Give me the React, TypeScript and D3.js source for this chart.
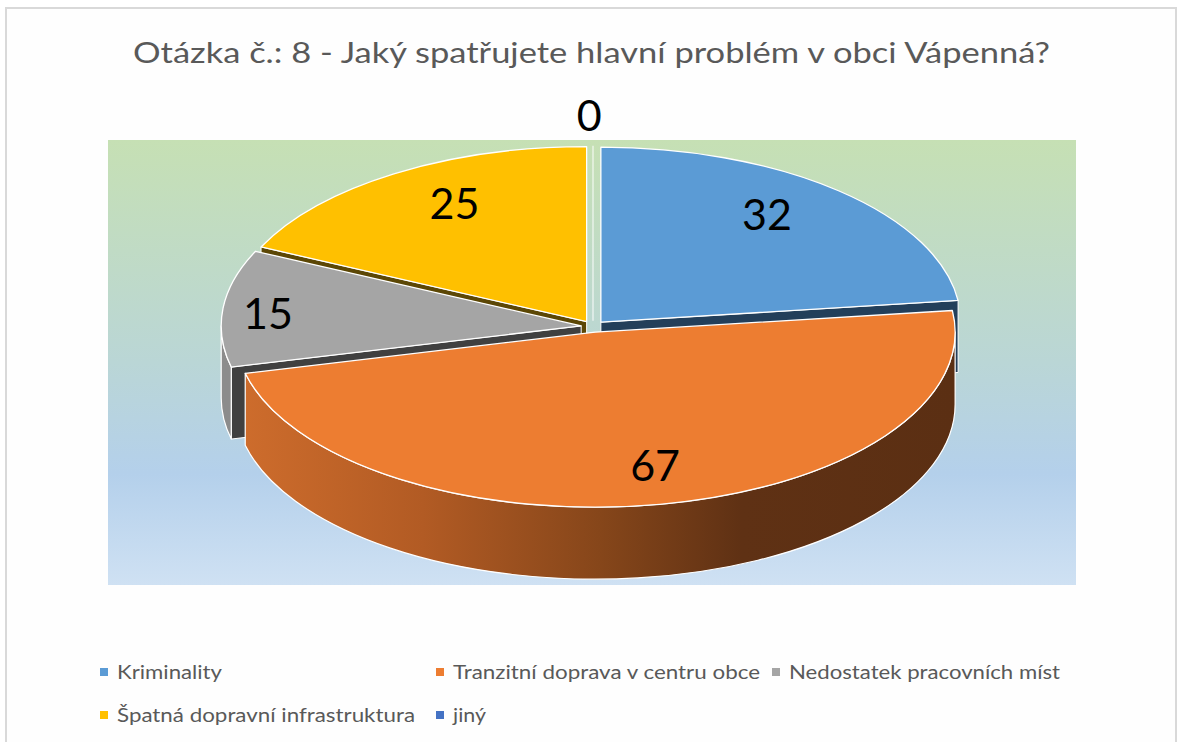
import React from 'react';
import * as d3 from 'd3';

// ---- data ----
const categories = [
  'Kriminality',
  'Tranzitní doprava v centru obce',
  'Nedostatek pracovních míst',
  'Špatná dopravní infrastruktura',
  'jiný',
];
const values = [32, 67, 15, 25, 0];
const title = 'Otázka č.: 8 - Jaký spatřujete hlavní problém v obci Vápenná?';

// ---- styles ----
const topColors = ['#5B9BD5', '#ED7D31', '#A5A5A5', '#FFC000', '#4472C4'];
const faceColors = ['#233f5a', '#6a3412', '#404040', '#5c4705', '#22386a'];
const wallColors = ['#3e6c96', 'url(#orangeWall)', '#8c8c8c', '#b38800', '#2f4f8a'];
// label placement tweaks (degrees, radial factor)
const labelAngleAdj = [-4.6, -2, -1, 3.9, -0.5];
const labelRadius = [0.77, 0.778, 0.873, 0.77, 1.175];

const W = 1178;
const H = 742;
const CX = 593;
const CY = 326.5;
const RX = 360;
const RY = 175;
const DEPTH = 72;
const EXPLODE = 0.033;

const PLOT = { x: 108, y: 140, w: 968, h: 445 };

type P = [number, number];
function pt(ox: number, oy: number, a: number, r = 1, dz = 0): P {
  return [ox + RX * r * Math.sin(a), oy - RY * r * Math.cos(a) + dz];
}
function topPath(ox: number, oy: number, a0: number, a1: number) {
  const p0 = pt(ox, oy, a0);
  const p1 = pt(ox, oy, a1);
  const large = a1 - a0 > Math.PI ? 1 : 0;
  return `M${ox},${oy}L${p0[0]},${p0[1]}A${RX},${RY} 0 ${large} 1 ${p1[0]},${p1[1]}Z`;
}
function wallPath(ox: number, oy: number, a0: number, a1: number) {
  const s = Math.max(a0, Math.PI / 2);
  const e = Math.min(a1, (3 * Math.PI) / 2);
  if (e <= s + 1e-6) return null;
  const p0 = pt(ox, oy, s);
  const p1 = pt(ox, oy, e);
  const q1 = pt(ox, oy, e, 1, DEPTH);
  const q0 = pt(ox, oy, s, 1, DEPTH);
  const large = e - s > Math.PI ? 1 : 0;
  return `M${p0[0]},${p0[1]}A${RX},${RY} 0 ${large} 1 ${p1[0]},${p1[1]}L${q1[0]},${q1[1]}A${RX},${RY} 0 ${large} 0 ${q0[0]},${q0[1]}Z`;
}
function facePath(ox: number, oy: number, a: number) {
  const p = pt(ox, oy, a);
  const q = pt(ox, oy, a, 1, DEPTH);
  return `M${ox},${oy}L${p[0]},${p[1]}L${q[0]},${q[1]}L${ox},${oy + DEPTH}Z`;
}

const legendCols = [100, 436, 772];
const legendRows = [672, 715];
const legendLayout = [
  [0, 0],
  [1, 0],
  [2, 0],
  [0, 1],
  [1, 1],
];
const legendTextWidths = [105, 307, 271, 298, 33];

export default function App() {
  const pie = d3
    .pie<number>()
    .sort(null)
    .value((d) => d);
  const arcs = pie(values).map((a, i) => {
    const mid = (a.startAngle + a.endAngle) / 2;
    const ox = CX + EXPLODE * RX * Math.sin(mid);
    const oy = CY - EXPLODE * RY * Math.cos(mid);
    return { ...a, i, mid, ox, oy };
  });
  const order = [...arcs].sort((a, b) => a.oy - b.oy);

  return (
    <div style={{ position: 'fixed', left: 0, top: 0, width: W, height: H, background: '#fff' }}>
      <svg width={W} height={H} style={{ display: 'block' }}>
        <defs>
          <linearGradient id="plotBg" x1="0" y1="0" x2="0" y2="1">
            <stop offset="0" stopColor="#c6e0b4" />
            <stop offset="0.5" stopColor="#bad6d6" />
            <stop offset="0.75" stopColor="#b4d0eb" />
            <stop offset="1" stopColor="#cfe1f3" />
          </linearGradient>
          <linearGradient id="orangeWall" gradientUnits="userSpaceOnUse" x1={245} y1={0} x2={955} y2={0}>
            <stop offset="0" stopColor="#cd6c2c" />
            <stop offset="0.25" stopColor="#b25b24" />
            <stop offset="0.5" stopColor="#86461a" />
            <stop offset="0.7" stopColor="#5f3114" />
            <stop offset="1" stopColor="#5b2f13" />
          </linearGradient>
        </defs>
        <rect x={6} y={8} width={1170} height={745} fill="#fefefe" stroke="#d9d9d9" strokeWidth={2} />
        <text
          x={591.5}
          y={63}
          textAnchor="middle"
          fontFamily="Lato, 'Open Sans', sans-serif"
          fontSize={28}
          fill="#595959"
          textLength={917}
          lengthAdjust="spacingAndGlyphs"
        >
          {title}
        </text>
        <rect x={PLOT.x} y={PLOT.y} width={PLOT.w} height={PLOT.h} fill="url(#plotBg)" />
        {order.map((a) => {
          const els: React.ReactNode[] = [];
          const i = a.i;
          if (a.endAngle - a.startAngle < 1e-6) {
            const p = pt(a.ox, a.oy, a.startAngle);
            els.push(
              <line key={`z${i}`} x1={a.ox} y1={a.oy} x2={p[0]} y2={p[1]} stroke="#ffffff" strokeWidth={1.2} opacity={0.8} />
            );
            return <g key={i}>{els}</g>;
          }
          if (Math.sin(a.startAngle) < -1e-6) {
            els.push(
              <path key={`fs${i}`} d={facePath(a.ox, a.oy, a.startAngle)} fill={faceColors[i]} stroke="#ffffff" strokeWidth={1} strokeLinejoin="round" />
            );
          }
          if (Math.sin(a.endAngle) > 1e-6) {
            els.push(
              <path key={`fe${i}`} d={facePath(a.ox, a.oy, a.endAngle)} fill={faceColors[i]} stroke="#ffffff" strokeWidth={1} strokeLinejoin="round" />
            );
          }
          const w = wallPath(a.ox, a.oy, a.startAngle, a.endAngle);
          if (w) {
            els.push(<path key={`w${i}`} d={w} fill={wallColors[i]} stroke="#ffffff" strokeWidth={1.2} strokeLinejoin="round" />);
          }
          els.push(
            <path key={`t${i}`} d={topPath(a.ox, a.oy, a.startAngle, a.endAngle)} fill={topColors[i]} stroke="#ffffff" strokeWidth={1.3} strokeLinejoin="round" />
          );
          return <g key={i}>{els}</g>;
        })}
        {arcs.map((a) => {
          const ang = a.mid + (labelAngleAdj[a.i] * Math.PI) / 180;
          const p = pt(a.ox, a.oy, ang, labelRadius[a.i]);
          return (
            <text
              key={`l${a.i}`}
              x={p[0]}
              y={p[1] + 15.5}
              textAnchor="middle"
              fontFamily="Lato, 'Open Sans', sans-serif"
              fontSize={43}
              fill="#000000"
            >
              {values[a.i]}
            </text>
          );
        })}
        {categories.map((c, i) => {
          const [col, row] = legendLayout[i];
          const x = legendCols[col];
          const y = legendRows[row];
          return (
            <g key={`lg${i}`}>
              <rect x={x} y={y - 4} width={8} height={8} fill={topColors[i]} />
              <text
                x={x + 17}
                y={y + 7}
                fontFamily="Lato, 'Open Sans', sans-serif"
                fontSize={19.5}
                fill="#595959"
                textLength={legendTextWidths[i]}
                lengthAdjust="spacingAndGlyphs"
              >
                {c}
              </text>
            </g>
          );
        })}
      </svg>
    </div>
  );
}
